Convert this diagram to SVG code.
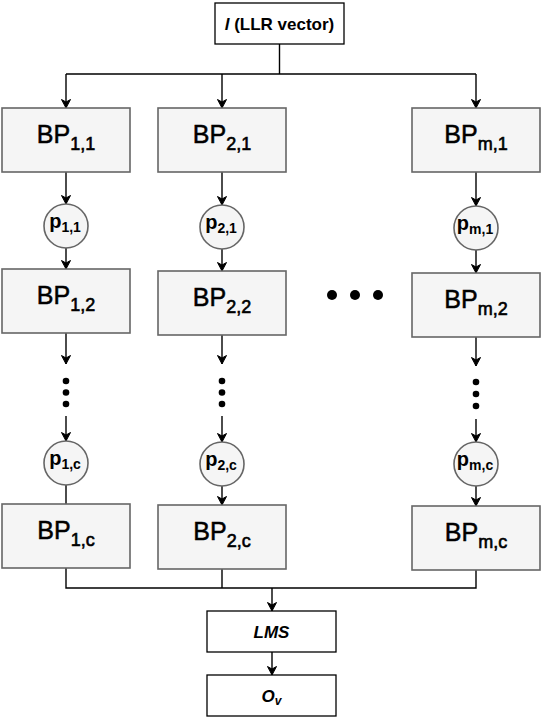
<svg xmlns="http://www.w3.org/2000/svg" width="542" height="718" viewBox="0 0 542 718">
<defs>
<marker id="arr" markerWidth="10" markerHeight="11" refX="9" refY="5.5" orient="auto" markerUnits="userSpaceOnUse">
<path d="M0.5,1 L9,5.5 L0.5,10 L3,5.5 z" fill="#000" stroke="#000" stroke-width="1"/>
</marker>
<style>
.bp{fill:#f5f5f5;stroke:#666;stroke-width:1.6}
.pc{fill:#f5f5f5;stroke:#666;stroke-width:1.6}
.wb{fill:#fff;stroke:#000;stroke-width:1.3}
.ln{fill:none;stroke:#000;stroke-width:1.4}
.ar{fill:none;stroke:#000;stroke-width:1.4;marker-end:url(#arr)}
text{font-family:"Liberation Sans",Arial,Helvetica,sans-serif;fill:#000;text-anchor:middle}
.tb{font-size:25px;stroke:#000;stroke-width:0.5}
.tb tspan{font-size:18px;stroke-width:0.6}
.tp{font-size:20px;font-weight:bold}
.tp tspan{font-size:14px}
.ts{font-size:17px;font-weight:bold}
.dot{fill:#000}
</style>
</defs>

<g id="connectors">
<path class="ln" d="M279.5,44 V74 H66 M66,74 H476"/>
<path class="ar" d="M66,74 V108"/>
<path class="ar" d="M222,74 V108"/>
<path class="ar" d="M476,74 V108"/>
<path class="ar" d="M66,172 V204"/>
<path class="ar" d="M222,172 V205"/>
<path class="ar" d="M476,172 V206"/>
<path class="ar" d="M66,248 V269"/>
<path class="ar" d="M222,249 V271"/>
<path class="ar" d="M476,250 V273"/>
<path class="ar" d="M66,333 V364"/>
<path class="ar" d="M222,335 V364"/>
<path class="ar" d="M476,337 V366"/>
<path class="ar" d="M66,416 V441"/>
<path class="ar" d="M222,416 V442"/>
<path class="ar" d="M476,419 V442"/>
<path class="ln" d="M66,485 V504"/>
<path class="ar" d="M222,486 V505"/>
<path class="ar" d="M476,486 V506"/>
<path class="ln" d="M66,568 V588 H476 V570 M222,569 V588"/>
<path class="ar" d="M272,588 V611"/>
<path class="ar" d="M272,652 V675"/>
</g>

<g id="input">
<rect class="wb" x="215" y="3" width="129" height="41"/>
<text class="ts" x="279.5" y="29.5"><tspan font-style="italic">l</tspan> (LLR vector)</text>
</g>

<g id="bp11"><rect class="bp" x="2" y="108" width="128" height="64"/><text class="tb" x="66" y="143">BP<tspan dy="7">1,1</tspan></text></g>
<g id="bp21"><rect class="bp" x="158" y="108" width="128" height="64"/><text class="tb" x="222" y="143">BP<tspan dy="7">2,1</tspan></text></g>
<g id="bpm1"><rect class="bp" x="412" y="108" width="128" height="64"/><text class="tb" x="476" y="143">BP<tspan dy="7">m,1</tspan></text></g>

<g id="p11"><circle class="pc" cx="66" cy="226" r="22"/><text class="tp" x="65" y="228">p<tspan dy="4">1,1</tspan></text></g>
<g id="p21"><circle class="pc" cx="222" cy="227" r="22"/><text class="tp" x="221" y="229">p<tspan dy="4">2,1</tspan></text></g>
<g id="pm1"><circle class="pc" cx="476" cy="228" r="22"/><text class="tp" x="475" y="230">p<tspan dy="4">m,1</tspan></text></g>

<g id="bp12"><rect class="bp" x="2" y="269" width="128" height="64"/><text class="tb" x="66" y="304">BP<tspan dy="7">1,2</tspan></text></g>
<g id="bp22"><rect class="bp" x="158" y="271" width="128" height="64"/><text class="tb" x="222" y="306">BP<tspan dy="7">2,2</tspan></text></g>
<g id="bpm2"><rect class="bp" x="412" y="273" width="128" height="64"/><text class="tb" x="476" y="308">BP<tspan dy="7">m,2</tspan></text></g>

<g id="ellipsis">
<circle class="dot" cx="332" cy="295" r="5"/><circle class="dot" cx="355" cy="295" r="5"/><circle class="dot" cx="378" cy="295" r="5"/>
<circle class="dot" cx="66" cy="381" r="3.3"/><circle class="dot" cx="66" cy="392.5" r="3.3"/><circle class="dot" cx="66" cy="404" r="3.3"/>
<circle class="dot" cx="222" cy="381" r="3.3"/><circle class="dot" cx="222" cy="392.5" r="3.3"/><circle class="dot" cx="222" cy="404" r="3.3"/>
<circle class="dot" cx="476" cy="382" r="3.3"/><circle class="dot" cx="476" cy="394" r="3.3"/><circle class="dot" cx="476" cy="406" r="3.3"/>
</g>

<g id="p1c"><circle class="pc" cx="66" cy="463" r="22"/><text class="tp" x="65" y="465">p<tspan dy="4">1,c</tspan></text></g>
<g id="p2c"><circle class="pc" cx="222" cy="464" r="22"/><text class="tp" x="221" y="466">p<tspan dy="4">2,c</tspan></text></g>
<g id="pmc"><circle class="pc" cx="476" cy="464" r="22"/><text class="tp" x="475" y="466">p<tspan dy="4">m,c</tspan></text></g>

<g id="bp1c"><rect class="bp" x="2" y="504" width="128" height="64"/><text class="tb" x="66" y="539">BP<tspan dy="7">1,c</tspan></text></g>
<g id="bp2c"><rect class="bp" x="158" y="505" width="128" height="64"/><text class="tb" x="222" y="540">BP<tspan dy="7">2,c</tspan></text></g>
<g id="bpmc"><rect class="bp" x="412" y="506" width="128" height="64"/><text class="tb" x="476" y="541">BP<tspan dy="7">m,c</tspan></text></g>

<g id="lms"><rect class="wb" x="207" y="611" width="129" height="41"/><text class="ts" x="271.5" y="637.5" font-style="italic">LMS</text></g>
<g id="ov"><rect class="wb" x="207" y="675" width="129" height="41"/><text class="ts" x="271.5" y="702" font-style="italic">O<tspan font-size="12px" dy="3">v</tspan></text></g>
</svg>
